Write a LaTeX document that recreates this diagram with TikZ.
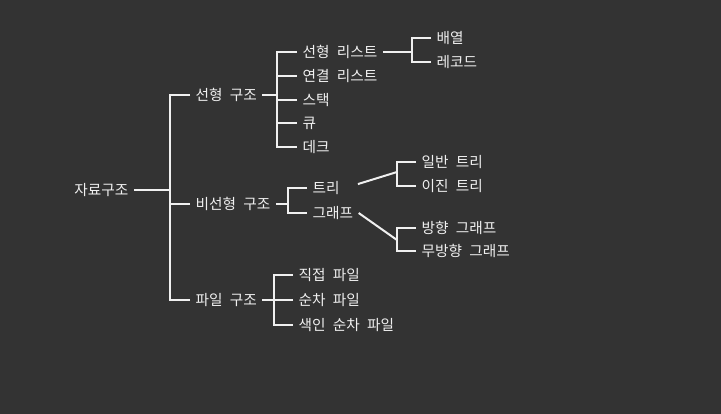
\documentclass[tikz,border=0pt]{standalone}
\usepackage{fontspec}
\setmainfont[WordSpace=2.2]{Noto Sans CJK KR}
\usepackage{xcolor}
\definecolor{bg}{HTML}{333333}
\definecolor{ink}{HTML}{F0F0F0}

\begin{document}
\begin{tikzpicture}[x=0.75pt,y=-0.75pt,
  every node/.style={text=ink,font=\fontsize{11}{13}\selectfont,inner xsep=4pt,inner ysep=1pt},
  leaf/.style={anchor=west},
  branch/.style={draw=ink,line width=1.5pt}]
\fill[bg] (0,0) rectangle (721,414);
% root and first level
\node[anchor=east] (root) at (134,190) {자료구조};
\node[leaf] (lin) at (190,95) {선형 구조};
\node[leaf] (non) at (190,204) {비선형 구조};
\node[leaf] (fil) at (190,300) {파일 구조};
\coordinate (j0) at (170,190);
\draw[branch] (root.east) -- (j0);
\draw[branch] (lin.west) -| (j0);
\draw[branch] (non.west) -| (j0);
\draw[branch] (fil.west) -| (j0);
% linear structures
\node[leaf] (lst) at (297,52) {선형 리스트};
\node[leaf] (lnk) at (297,76) {연결 리스트};
\node[leaf] (stk) at (297,100) {스택};
\node[leaf] (que) at (297,123) {큐};
\node[leaf] (deq) at (297,147) {데크};
\coordinate (j1) at (277,95);
\draw[branch] (lin.east) -- (j1);
\foreach \n in {lst,lnk,stk,que,deq}
  \draw[branch] (\n.west) -| (j1);
\node[leaf] (arr) at (431,38) {배열};
\node[leaf] (rec) at (431,62) {레코드};
\coordinate (j2) at (412,52);
\draw[branch] (lst.east) -- (j2);
\draw[branch] (arr.west) -| (j2);
\draw[branch] (rec.west) -| (j2);
% non-linear structures
\node[leaf] (tree) at (307,188) {트리};
\node[leaf] (graph) at (307,213) {그래프};
\coordinate (j3) at (288,204);
\draw[branch] (non.east) -- (j3);
\draw[branch] (tree.west) -| (j3);
\draw[branch] (graph.west) -| (j3);
\node[leaf] (gtree) at (416,162) {일반 트리};
\node[leaf] (btree) at (416,186) {이진 트리};
\coordinate (j4) at (397,172);
\draw[branch,shorten <=10pt] (tree.east) -- (j4);
\draw[branch] (gtree.west) -| (j4);
\draw[branch] (btree.west) -| (j4);
\node[leaf] (dg) at (416,228) {방향 그래프};
\node[leaf] (ug) at (416,251) {무방향 그래프};
\coordinate (j5) at (397,240);
\draw[branch] (graph.east) -- (j5);
\draw[branch] (dg.west) -| (j5);
\draw[branch] (ug.west) -| (j5);
% file structures
\node[leaf] (dir) at (293,275) {직접 파일};
\node[leaf] (seq) at (293,300) {순차 파일};
\node[leaf] (idx) at (293,325) {색인 순차 파일};
\coordinate (j6) at (274,300);
\draw[branch] (fil.east) -- (j6);
\foreach \n in {dir,seq,idx}
  \draw[branch] (\n.west) -| (j6);
\end{tikzpicture}
\end{document}
